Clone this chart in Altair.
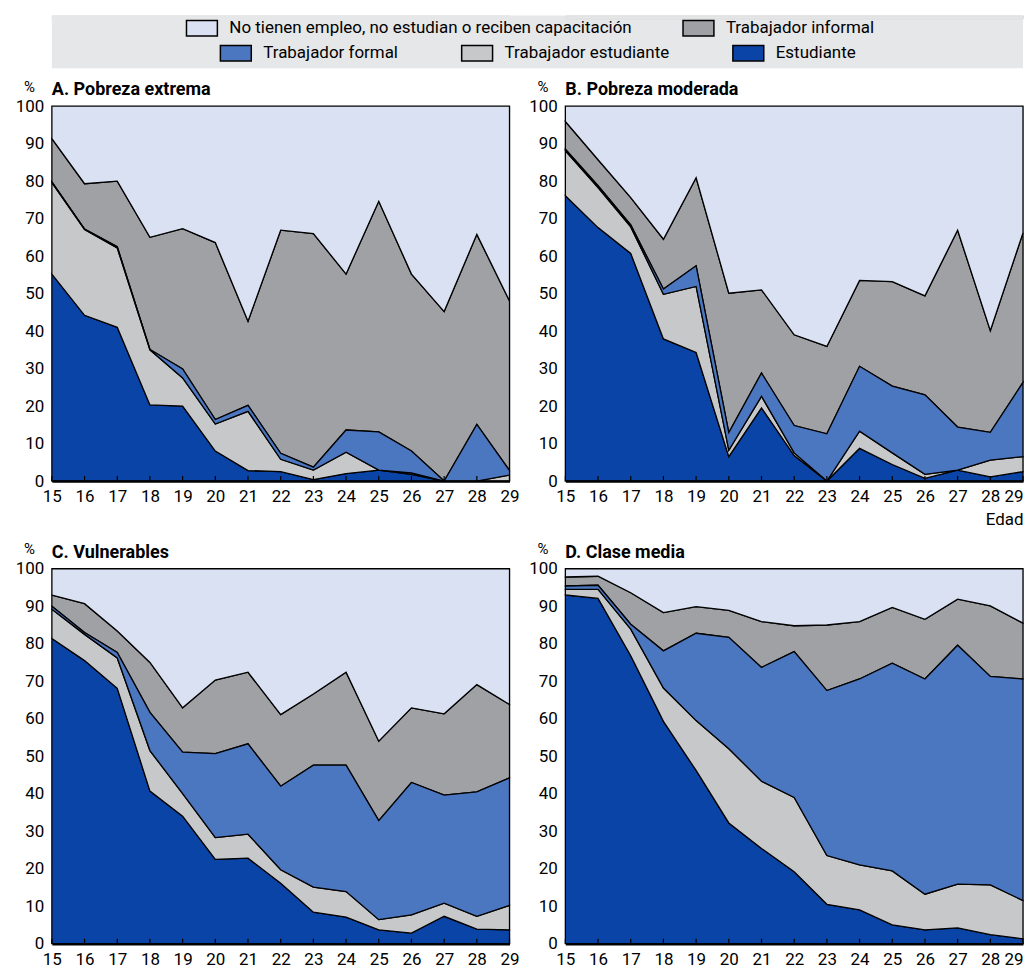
import altair as alt
import pandas as pd

FONT = "Roboto, Liberation Sans, sans-serif"

edades = [15, 16, 17, 18, 19, 20, 21, 22, 23, 24, 25, 26, 27, 28, 29]

series = [
    "Estudiante",
    "Trabajador estudiante",
    "Trabajador formal",
    "Trabajador informal",
    "No tienen empleo, no estudian o reciben capacitación",
]
colores = ["#0B44A7", "#C7C8CA", "#4B76C0", "#A0A1A5", "#D9E1F2"]

# Upper edge (cumulative %) of each stacked band
a_estudiante = [55.2, 44.2, 41.0, 20.3, 20.0, 8.0, 2.8, 2.5, 0.4, 2.0, 2.9, 1.8, 0.0, 0.0, 0.0]
a_trab_estudiante = [79.6, 67.1, 62.2, 35.0, 27.5, 15.2, 18.6, 5.8, 2.9, 7.7, 2.9, 2.2, 0.0, 0.0, 1.6]
a_formal = [79.8, 67.2, 62.5, 35.1, 29.9, 16.4, 20.2, 7.4, 3.7, 13.6, 13.1, 8.0, 0.0, 15.1, 2.8]
a_informal = [91.3, 79.3, 80.0, 65.0, 67.3, 63.6, 42.6, 66.9, 66.0, 55.2, 74.6, 55.2, 45.2, 65.8, 48.0]

b_estudiante = [76.1, 67.6, 60.7, 37.9, 34.3, 6.5, 19.5, 6.8, 0.0, 8.7, 4.4, 0.7, 2.9, 1.1, 2.5]
b_trab_estudiante = [88.1, 78.3, 67.8, 49.8, 51.9, 8.2, 22.6, 7.5, 0.0, 13.3, 7.5, 1.8, 2.9, 5.6, 6.5]
b_formal = [88.5, 78.8, 68.3, 51.2, 57.4, 12.9, 28.8, 14.8, 12.6, 30.6, 25.3, 23.0, 14.4, 13.0, 26.3]
b_informal = [95.9, 85.7, 75.6, 64.5, 80.9, 50.1, 51.0, 39.0, 35.9, 53.5, 53.2, 49.4, 66.9, 40.1, 66.2]

c_estudiante = [81.4, 75.5, 68.1, 40.7, 34.0, 22.5, 22.8, 16.1, 8.4, 7.1, 3.7, 2.8, 7.3, 3.9, 3.7]
c_trab_estudiante = [89.2, 82.5, 76.2, 51.5, 40.0, 28.3, 29.2, 19.7, 15.1, 13.9, 6.4, 7.7, 10.8, 7.3, 10.2]
c_formal = [90.0, 83.0, 77.7, 61.7, 51.1, 50.7, 53.3, 42.0, 47.6, 47.6, 32.8, 43.0, 39.6, 40.5, 44.2]
c_informal = [93.0, 90.7, 83.4, 75.0, 62.9, 70.3, 72.4, 61.1, 66.6, 72.4, 54.0, 62.9, 61.3, 69.1, 63.8]

d_estudiante = [93.0, 92.1, 76.8, 59.3, 46.2, 32.2, 25.4, 19.2, 10.5, 9.0, 5.0, 3.7, 4.2, 2.4, 1.3]
d_trab_estudiante = [94.5, 94.5, 83.9, 68.2, 59.5, 52.0, 43.3, 39.0, 23.5, 21.0, 19.4, 13.2, 15.9, 15.7, 11.5]
d_formal = [95.4, 95.6, 85.2, 78.1, 82.8, 81.7, 73.7, 77.9, 67.5, 70.6, 74.8, 70.6, 79.6, 71.3, 70.6]
d_informal = [97.8, 98.0, 93.6, 88.3, 89.9, 88.9, 85.9, 84.8, 85.0, 85.9, 89.7, 86.5, 91.9, 90.1, 85.5]

total = [100, 100, 100, 100, 100, 100, 100, 100, 100, 100, 100, 100, 100, 100, 100]

paneles = {
    "A": ("A. Pobreza extrema", [a_estudiante, a_trab_estudiante, a_formal, a_informal, total]),
    "B": ("B. Pobreza moderada", [b_estudiante, b_trab_estudiante, b_formal, b_informal, total]),
    "C": ("C. Vulnerables", [c_estudiante, c_trab_estudiante, c_formal, c_informal, total]),
    "D": ("D. Clase media", [d_estudiante, d_trab_estudiante, d_formal, d_informal, total]),
}

rows = []
for key, (_, tops) in paneles.items():
    prev = [0] * len(edades)
    for serie, top in zip(series, tops):
        for e, lo, hi in zip(edades, prev, top):
            rows.append({"panel": key, "edad": e, "serie": serie, "bajo": lo, "alto": hi})
        prev = top
df = pd.DataFrame(rows)

W, H = 459, 376

grupo_fill = [series[4], series[3]]
grupo_color = [series[2], series[1], series[0]]

# wide rectangular legend swatch (about 31 x 15.5 px)
simbolo = "M-2,-1H2V1H-2Z"
leg_common = dict(
    orient="none", direction="horizontal", title=None,
    symbolType=simbolo, symbolSize=240, symbolStrokeColor="black",
    symbolStrokeWidth=1.5, symbolOpacity=1,
    labelFont=FONT, labelFontSize=17, labelColor="black",
    labelOffset=19, padding=0, labelLimit=600,
)
leg_fill = alt.Legend(legendX=142, legendY=4, columnPadding=48, **leg_common)
leg_color = alt.Legend(legendX=176, legendY=29, columnPadding=60, **leg_common)

fill_scale = alt.Scale(domain=grupo_fill, range=[colores[4], colores[3]])
color_scale = alt.Scale(domain=grupo_color, range=[colores[2], colores[1], colores[0]])


def panel(key, derecha):
    titulo = paneles[key][0]
    d = df[df.panel == key]
    if derecha:
        alinear = {"condition": {"test": "datum.value == 29", "value": "right"}, "value": "center"}
    else:
        alinear = "center"
    x = alt.X(
        "edad:Q",
        scale=alt.Scale(domain=[15, 29], nice=False, zero=False),
        axis=alt.Axis(
            values=edades, format="d", ticks=False, tickSize=0, grid=False,
            labelFont=FONT, labelFontSize=17, labelColor="black", labelPadding=8,
            labelFlush=False, labelAlign=alinear,
            domainColor="black", domainWidth=2.5,
            title="Edad" if key == "B" else None,
            titleAnchor="end", titleAlign="right", titleFont=FONT,
            titleFontSize=17, titleFontWeight="normal", titlePadding=7,
            titleColor="black", zindex=1,
        ),
    )
    y = alt.Y(
        "alto:Q",
        scale=alt.Scale(domain=[0, 100], nice=False),
        axis=alt.Axis(
            values=[0, 10, 20, 30, 40, 50, 60, 70, 80, 90, 100], ticks=False,
            tickSize=0, grid=False, labelFont=FONT, labelFontSize=17,
            labelColor="black", labelPadding=8, domain=False,
            title="%", titleAngle=0, titleX=-23, titleY=-15, titleAlign="center",
            titleBaseline="alphabetic", titleFont=FONT, titleFontSize=15,
            titleFontWeight="normal", titleColor="black", zindex=1,
        ),
    )
    base = alt.Chart(d)
    capa_fill = base.transform_filter(
        alt.FieldOneOfPredicate(field="serie", oneOf=grupo_fill)
    ).mark_area(stroke="black", strokeWidth=1.3, opacity=1, strokeJoin="miter").encode(
        x=x, y=y, y2="bajo:Q",
        fill=alt.Fill("serie:N", scale=fill_scale, legend=leg_fill),
    )
    capa_color = base.transform_filter(
        alt.FieldOneOfPredicate(field="serie", oneOf=grupo_color)
    ).mark_area(stroke="black", strokeWidth=1.3, opacity=1, strokeJoin="miter").encode(
        x=x, y=y, y2="bajo:Q",
        color=alt.Color("serie:N", scale=color_scale, legend=leg_color),
    )
    marcas = alt.Chart(pd.DataFrame({"edad": edades})).mark_rule(
        color="black", strokeWidth=1.2
    ).encode(x=x, y=alt.value(H), y2=alt.value(H - 5))
    return alt.layer(capa_fill, capa_color, marcas).properties(
        width=W, height=H,
        title=alt.TitleParams(
            titulo, anchor="start", frame="group", font=FONT, fontSize=18,
            fontWeight="bold", color="black", offset=0, dy=20,
        ),
    )


vacio = pd.DataFrame({"k": [1]})
banda = alt.Chart(vacio).mark_rect(fill="#E6E7E8").encode(
    x=alt.value(0), x2=alt.value(974), y=alt.value(0), y2=alt.value(53)
).properties(width=W, height=3)
hueco = alt.Chart(vacio).mark_rect(opacity=0).encode(
    x=alt.value(0), x2=alt.value(1), y=alt.value(0), y2=alt.value(1)
).properties(width=W, height=3)

chart = alt.concat(
    banda, hueco,
    panel("A", False), panel("B", True),
    panel("C", False), panel("D", True),
    columns=2,
).properties(
    spacing={"row": 88, "column": 56},
    bounds="flush",
    padding={"left": 6, "top": 5, "right": 0, "bottom": 0},
).configure_view(
    stroke="black", strokeWidth=2
).configure(
    background="white"
)

chart.save("out.html", embed_options={"renderer": "svg", "actions": False})
